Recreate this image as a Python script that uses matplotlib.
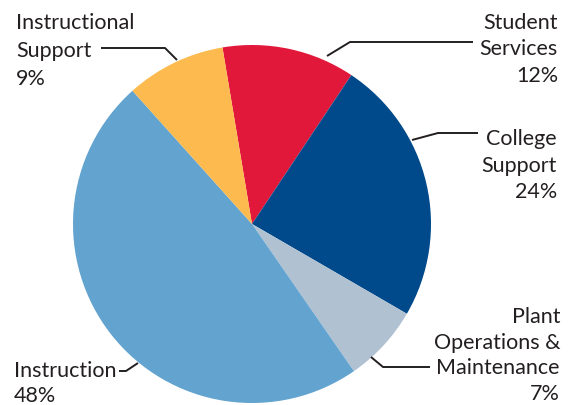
import matplotlib
matplotlib.use("Agg")
import matplotlib.pyplot as plt

# budget share by category (clockwise from the top)
categories = ["Student\nServices", "College\nSupport", "Plant\nOperations &\nMaintenance",
              "Instruction", "Instructional\nSupport"]
shares = [12, 24, 7, 48, 9]
colors = ["#E2183A", "#00498A", "#B0C1D2", "#62A3CF", "#FDBA4F"]

W, H = 575, 406
fig = plt.figure(figsize=(W / 100, H / 100), dpi=100)
ax = fig.add_axes([0, 0, 1, 1])
ax.set_xlim(0, W)
ax.set_ylim(0, H)
ax.set_aspect("equal")
ax.axis("off")

cx, cy, r = 252, H - 225, 179
ax.pie(shares, colors=colors, startangle=99.5, counterclock=False,
       center=(cx, cy), radius=r, wedgeprops=dict(linewidth=0))
ax.set_xlim(0, W)
ax.set_ylim(0, H)

font = dict(family="Lato", fontsize=15.5, color="#231F20")


def label(text, pct, x, baselines, ha):
    lines = text.split("\n") + [f"{pct}%"]
    for s, y in zip(lines, baselines):
        ax.text(x, H - y, s, ha=ha, va="baseline", **font)


label(categories[4], shares[4], 16, [29, 57, 85], "left")
label(categories[0], shares[0], 558, [29, 55, 82], "right")
label(categories[1], shares[1], 557, [145, 172, 198], "right")
label(categories[2], shares[2], 560, [323, 349, 374, 400], "right")
label(categories[3], shares[3], 14, [377, 402], "left")

# leader lines (pixel coords, y from top)
leaders = [
    [(101, 49), (165, 49), (177, 61)],
    [(473, 43), (350, 43), (327, 57)],
    [(478, 134), (438, 134), (412, 141)],
    [(430, 368), (383, 368), (371, 358)],
    [(119, 372), (126, 372), (138, 364)],
]
for pts in leaders:
    xs = [p[0] for p in pts]
    ys = [H - p[1] for p in pts]
    ax.plot(xs, ys, color="#231F20", lw=1.4, solid_capstyle="butt")

fig.savefig("out.png", dpi=100)
